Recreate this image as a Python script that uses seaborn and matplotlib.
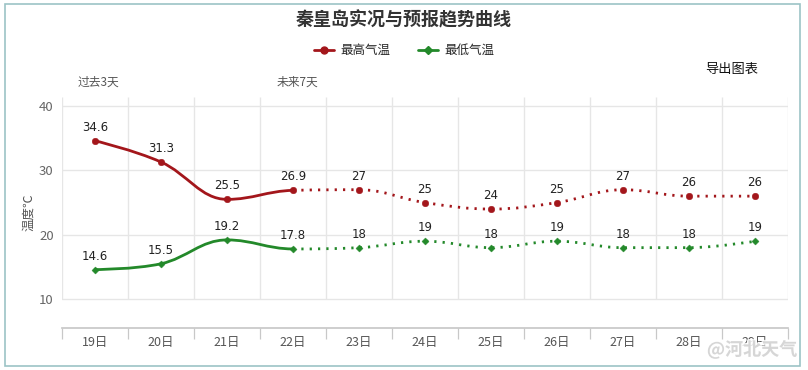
import pandas as pd
import seaborn as sns
import matplotlib.pyplot as plt
from matplotlib.path import Path
from matplotlib.patches import PathPatch, Rectangle
from matplotlib.lines import Line2D
import matplotlib.patheffects as pe

# data
days = ["19日", "20日", "21日", "22日", "23日", "24日", "25日", "26日", "27日", "28日", "29日"]
high = [34.6, 31.3, 25.5, 26.9, 27, 25, 24, 25, 27, 26, 26]
low = [14.6, 15.5, 19.2, 17.8, 18, 19, 18, 19, 18, 18, 19]
high_labels = ["34.6", "31.3", "25.5", "26.9", "27", "25", "24", "25", "27", "26", "26"]
low_labels = ["14.6", "15.5", "19.2", "17.8", "18", "19", "18", "19", "18", "18", "19"]
last_observed = 3  # 22日, after this the values are forecast

RED = "#a3161b"
GREEN = "#23892a"
GRID = "#e6e6e6"


def spline_controls(xs, ys, smoothing=1.5):
    # control points like a highcharts spline
    n = len(xs)
    left, right = [None] * n, [None] * n
    denom = smoothing + 1
    for i in range(n):
        x, y = xs[i], ys[i]
        if i == 0 or i == n - 1:
            left[i] = right[i] = (x, y)
            continue
        lx, ly = xs[i - 1], ys[i - 1]
        nx, ny = xs[i + 1], ys[i + 1]
        lcx = (smoothing * x + lx) / denom
        lcy = (smoothing * y + ly) / denom
        rcx = (smoothing * x + nx) / denom
        rcy = (smoothing * y + ny) / denom
        corr = (rcy - lcy) * (rcx - x) / (rcx - lcx) + y - rcy
        lcy += corr
        rcy += corr
        if lcy > ly and lcy > y:
            lcy = max(ly, y)
            rcy = 2 * y - lcy
        elif lcy < ly and lcy < y:
            lcy = min(ly, y)
            rcy = 2 * y - lcy
        if rcy > ny and rcy > y:
            rcy = max(ny, y)
            lcy = 2 * y - rcy
        elif rcy < ny and rcy < y:
            rcy = min(ny, y)
            lcy = 2 * y - rcy
        left[i] = (lcx, lcy)
        right[i] = (rcx, rcy)
    return left, right


def spline_patch(xs, ys, start, stop, **kw):
    left, right = spline_controls(xs, ys)
    verts = [(xs[start], ys[start])]
    codes = [Path.MOVETO]
    for i in range(start + 1, stop + 1):
        verts += [right[i - 1], left[i], (xs[i], ys[i])]
        codes += [Path.CURVE4] * 3
    return PathPatch(Path(verts, codes), fill=False, **kw)


sns.set_theme(style="white")
plt.rcParams["font.family"] = ["Noto Sans CJK SC", "DejaVu Sans"]

fig = plt.figure(figsize=(8.08, 3.70), dpi=100)
fig.patches.append(Rectangle((5 / 808, 4 / 370), 795 / 808, 362 / 370,
                             transform=fig.transFigure, fill=False,
                             edgecolor="#9cc3c6", linewidth=1.2))
ax = fig.add_axes([62 / 808, 42 / 370, 726 / 808, 231 / 370])

xs = list(range(len(days)))
df = pd.DataFrame({"x": xs, "high": high, "low": low})

for col, color in [("high", RED), ("low", GREEN)]:
    ys = df[col].tolist()
    ax.add_patch(spline_patch(xs, ys, 0, last_observed, edgecolor=color,
                              linewidth=2, capstyle="round", zorder=3))
    ax.add_patch(spline_patch(xs, ys, last_observed, len(xs) - 1, edgecolor=color,
                              linewidth=2, linestyle=(0, (0.8, 2.2)),
                              capstyle="butt", zorder=3))

sns.scatterplot(data=df, x="x", y="high", color=RED, marker="o", s=22,
                edgecolor=RED, ax=ax, zorder=4)
sns.scatterplot(data=df, x="x", y="low", color=GREEN, marker="D", s=13,
                edgecolor=GREEN, ax=ax, zorder=4)

for x, y, t in zip(xs, high, high_labels):
    ax.annotate(t, (x, y), xytext=(0, 5), textcoords="offset points",
                ha="center", va="bottom", fontsize=8.5, color="#222222",
                family=["DejaVu Sans"])
for x, y, t in zip(xs, low, low_labels):
    ax.annotate(t, (x, y), xytext=(0, 5), textcoords="offset points",
                ha="center", va="bottom", fontsize=8.5, color="#222222",
                family=["DejaVu Sans"])

ax.set_xlim(-0.5, len(days) - 0.5)
ax.set_ylim(5.52, 41.4)
ax.set_yticks([10, 20, 30, 40])
ax.set_yticklabels(["10", "20", "30", "40"])
ax.set_xticks(xs)
ax.set_xticklabels(days)
ax.set_xticks([i - 0.5 for i in range(len(days) + 1)], minor=True)
ax.tick_params(axis="x", which="major", bottom=True, length=0, pad=6,
               labelsize=9, labelcolor="#555555")
ax.tick_params(axis="x", which="minor", bottom=True, length=8, width=0.9,
               color="#c8c8c8", direction="out")
ax.tick_params(axis="y", length=0, pad=6, labelsize=9.5, labelcolor="#666666")
ax.grid(axis="y", color=GRID, linewidth=1)
ax.vlines([i - 0.5 for i in range(len(days) + 1)], 10, 41.4, color=GRID,
          linewidth=1, zorder=0)
ax.set_xlabel("")
ax.set_ylabel("温度℃", fontsize=9, color="#555555", labelpad=3)
for side in ["top", "right", "left"]:
    ax.spines[side].set_visible(False)
ax.spines["bottom"].set_color("#c8c8c8")

fig.text(0.5, 0.945, "秦皇岛实况与预报趋势曲线", ha="center", va="center",
         fontsize=13, fontweight="bold", color="#333333")
handles = [Line2D([], [], color=RED, marker="o", markersize=5, linewidth=2),
           Line2D([], [], color=GREEN, marker="D", markersize=4, linewidth=2)]
fig.legend(handles, ["最高气温", "最低气温"], loc="center", bbox_to_anchor=(0.5, 0.863),
           ncol=2, frameon=False, fontsize=9, handlelength=1.6, columnspacing=2.2,
           handletextpad=0.5)
fig.text(78 / 808, 1 - 82 / 370, "过去3天", ha="left", va="center", fontsize=8.5, color="#555555")
fig.text(277 / 808, 1 - 82 / 370, "未来7天", ha="left", va="center", fontsize=8.5, color="#555555")
fig.text(732 / 808, 1 - 69 / 370, "导出图表", ha="center", va="center", fontsize=9.5, color="#111111")
fig.text(797 / 808, 1 - 350 / 370, "@河北天气", ha="right", va="center", fontsize=13,
         color="#d0d0d0", fontweight="bold", alpha=0.85,
         path_effects=[pe.withStroke(linewidth=2, foreground="white")])

fig.savefig("out.png", dpi=100)
